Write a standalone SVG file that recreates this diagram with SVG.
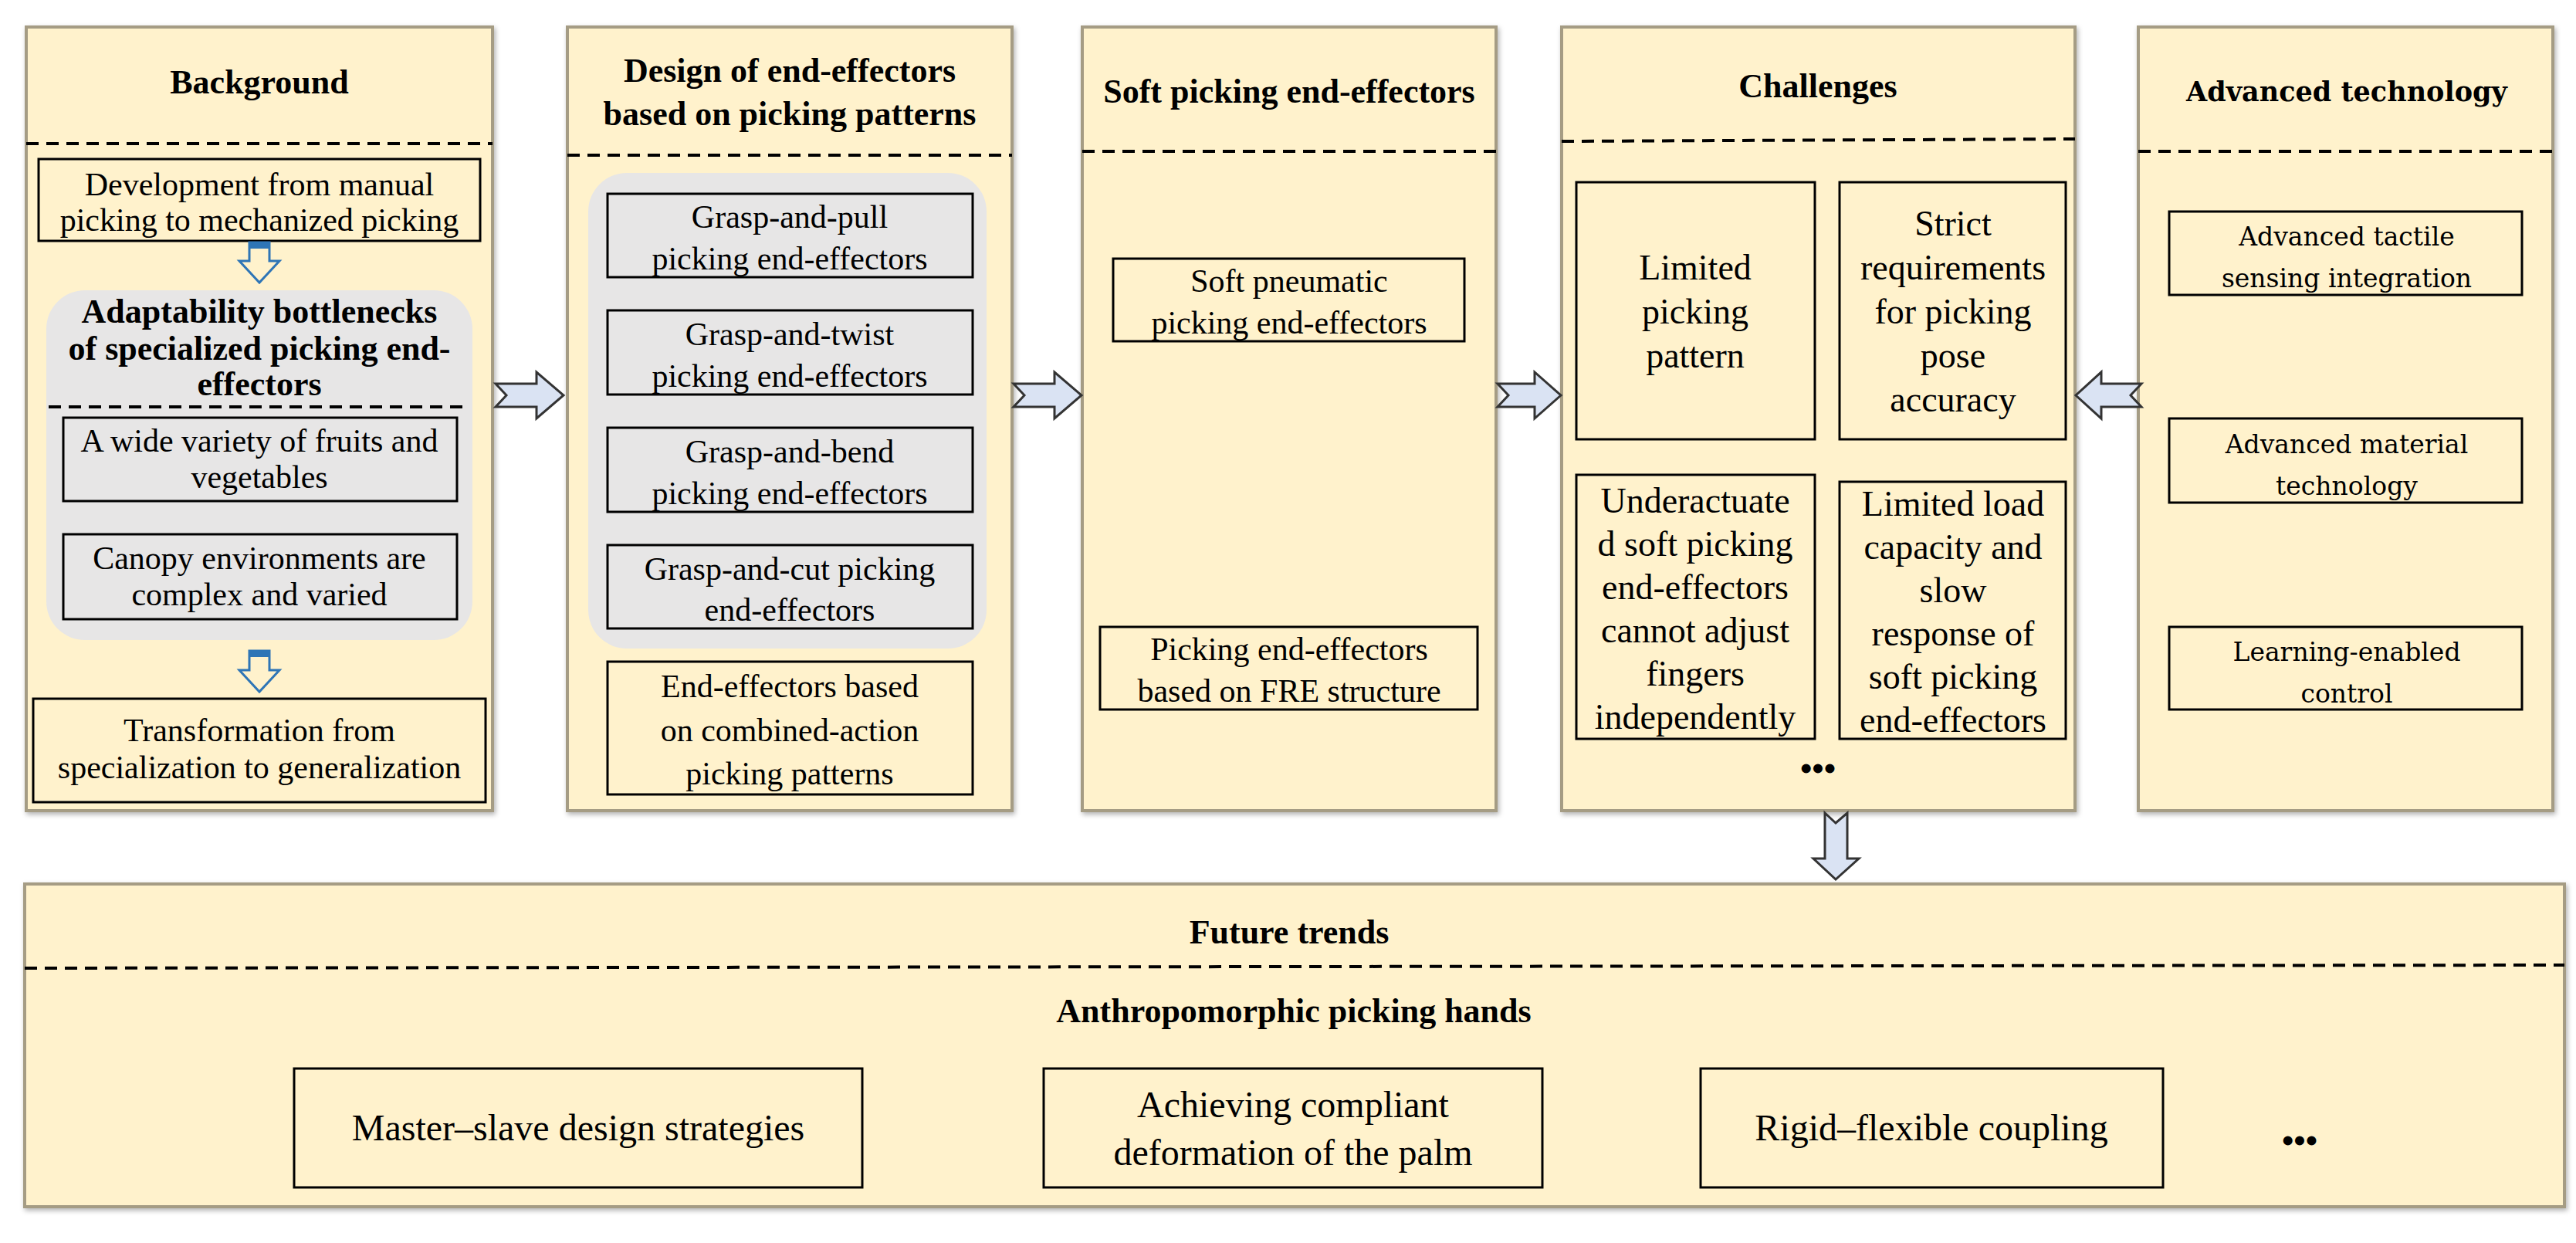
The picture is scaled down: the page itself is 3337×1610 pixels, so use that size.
<svg xmlns="http://www.w3.org/2000/svg" width="3337" height="1610" viewBox="0 0 3337 1610">
<style>
.panel{fill:#FFF2CC;stroke:#A59C84;stroke-width:4}
.dash{stroke:#000;stroke-width:4;stroke-dasharray:16 10;fill:none}
.box{fill:#FFF2CC;stroke:#000;stroke-width:3}
.gbox{fill:#E7E6E6;stroke:#000;stroke-width:3}
.gray{fill:#E7E6E6}
.t{font-family:"Liberation Serif",serif;font-size:42px;fill:#000;text-anchor:middle}
.tc{font-family:"Liberation Serif",serif;font-size:46px;fill:#000;text-anchor:middle}
.h{font-family:"Liberation Serif",serif;font-size:44px;font-weight:bold;fill:#000;text-anchor:middle}
.d{font-family:"DejaVu Serif",serif;font-size:33px;fill:#000;text-anchor:middle}
.dh{font-family:"DejaVu Serif",serif;font-size:35px;font-weight:bold;fill:#000;text-anchor:middle}
.bt{font-family:"Liberation Serif",serif;font-size:48px;fill:#000;text-anchor:middle}
.arr{fill:#DAE3F3;stroke:#333;stroke-width:3}
.hol{fill:#FFF2CC;stroke:#2E75B6;stroke-width:3}
</style>
<defs>
<filter id="sh" x="-5%" y="-5%" width="110%" height="110%"><feDropShadow dx="2" dy="3" stdDeviation="3" flood-color="#000" flood-opacity="0.3"/></filter>
</defs>

<g id="background">
<rect class="panel" x="34" y="35" width="604" height="1015" filter="url(#sh)"/>
<text class="h" x="336" y="121">Background</text>
<line class="dash" x1="34" y1="186" x2="638" y2="186"/>
<rect class="box" x="50" y="206" width="572" height="106"/>
<text class="t" x="336" y="253">Development from manual</text>
<text class="t" x="336" y="299">picking to mechanized picking</text>
<path class="hol" d="M323 314 H349 V338 H362 L336 366 L310 338 H323 Z"/>
<rect x="323" y="314" width="26" height="8" fill="#2E75B6"/>
<rect class="gray" x="60" y="376" width="552" height="453" rx="50"/>
<text class="h" x="336" y="418" font-size="42">Adaptability bottlenecks</text>
<text class="h" x="336" y="466" font-size="42">of specialized picking end-</text>
<text class="h" x="336" y="512" font-size="42">effectors</text>
<line class="dash" x1="63" y1="527" x2="603" y2="527"/>
<rect class="gbox" x="82" y="541" width="510" height="108"/>
<text class="t" x="336" y="585">A wide variety of fruits and</text>
<text class="t" x="336" y="632">vegetables</text>
<rect class="gbox" x="82" y="692" width="510" height="110"/>
<text class="t" x="336" y="737">Canopy environments are</text>
<text class="t" x="336" y="784">complex and varied</text>
<path class="hol" d="M323 843 H349 V868 H362 L336 896 L310 868 H323 Z"/>
<rect x="323" y="843" width="26" height="8" fill="#2E75B6"/>
<rect class="box" x="43" y="905" width="586" height="134"/>
<text class="t" x="336" y="960">Transformation  from</text>
<text class="t" x="336" y="1008">specialization to generalization</text>
</g>

<g id="design">
<rect class="panel" x="735" y="35" width="576" height="1015" filter="url(#sh)"/>
<text class="h" x="1023" y="106">Design of end-effectors</text>
<text class="h" x="1023" y="162">based on picking patterns</text>
<line class="dash" x1="735" y1="201" x2="1311" y2="201"/>
<rect class="gray" x="762" y="224" width="516" height="616" rx="50"/>
<rect class="gbox" x="787" y="251" width="473" height="108"/>
<text class="t" x="1023" y="295">Grasp-and-pull</text>
<text class="t" x="1023" y="349">picking end-effectors</text>
<rect class="gbox" x="787" y="402" width="473" height="109"/>
<text class="t" x="1023" y="447">Grasp-and-twist</text>
<text class="t" x="1023" y="501">picking end-effectors</text>
<rect class="gbox" x="787" y="554" width="473" height="109"/>
<text class="t" x="1023" y="599">Grasp-and-bend</text>
<text class="t" x="1023" y="653">picking end-effectors</text>
<rect class="gbox" x="787" y="706" width="473" height="108"/>
<text class="t" x="1023" y="751">Grasp-and-cut picking</text>
<text class="t" x="1023" y="804">end-effectors</text>
<rect class="box" x="787" y="857" width="473" height="172"/>
<text class="t" x="1023" y="903">End-effectors based</text>
<text class="t" x="1023" y="960">on combined-action</text>
<text class="t" x="1023" y="1016">picking patterns</text>
</g>

<g id="soft">
<rect class="panel" x="1402" y="35" width="536" height="1015" filter="url(#sh)"/>
<text class="h" x="1670" y="133">Soft picking end-effectors</text>
<line class="dash" x1="1402" y1="196" x2="1938" y2="196"/>
<rect class="box" x="1442" y="335" width="455" height="107"/>
<text class="t" x="1670" y="378">Soft pneumatic</text>
<text class="t" x="1670" y="432">picking end-effectors</text>
<rect class="box" x="1425" y="812" width="489" height="107"/>
<text class="t" x="1670" y="855">Picking end-effectors</text>
<text class="t" x="1670" y="909">based on FRE structure</text>
</g>

<g id="challenges">
<rect class="panel" x="2023" y="35" width="665" height="1015" filter="url(#sh)"/>
<text class="h" x="2355" y="126" font-size="46">Challenges</text>
<line class="dash" x1="2023" y1="183" x2="2688" y2="180"/>
<rect class="box" x="2042" y="236" width="309" height="333"/>
<text class="tc" x="2196" y="362">Limited</text>
<text class="tc" x="2196" y="419">picking</text>
<text class="tc" x="2196" y="476">pattern</text>
<rect class="box" x="2383" y="236" width="293" height="333"/>
<text class="tc" x="2530" y="305">Strict</text>
<text class="tc" x="2530" y="362">requirements</text>
<text class="tc" x="2530" y="419">for picking</text>
<text class="tc" x="2530" y="476">pose</text>
<text class="tc" x="2530" y="533">accuracy</text>
<rect class="box" x="2042" y="615" width="309" height="342"/>
<text class="tc" x="2196" y="664">Underactuate</text>
<text class="tc" x="2196" y="720">d soft picking</text>
<text class="tc" x="2196" y="776">end-effectors</text>
<text class="tc" x="2196" y="832">cannot adjust</text>
<text class="tc" x="2196" y="888">fingers</text>
<text class="tc" x="2196" y="944">independently</text>
<rect class="box" x="2383" y="624" width="293" height="333"/>
<text class="tc" x="2530" y="668">Limited load</text>
<text class="tc" x="2530" y="724">capacity and</text>
<text class="tc" x="2530" y="780">slow</text>
<text class="tc" x="2530" y="836">response of</text>
<text class="tc" x="2530" y="892">soft picking</text>
<text class="tc" x="2530" y="948">end-effectors</text>
<text class="h" x="2355" y="1010">•••</text>
</g>

<g id="advanced">
<rect class="panel" x="2770" y="35" width="537" height="1015" filter="url(#sh)"/>
<text class="dh" x="3040" y="131">Advanced technology</text>
<line class="dash" x1="2770" y1="196" x2="3307" y2="196"/>
<rect class="box" x="2810" y="274" width="457" height="108"/>
<text class="d" x="3040" y="318">Advanced tactile</text>
<text class="d" x="3040" y="372">sensing integration</text>
<rect class="box" x="2810" y="542" width="457" height="109"/>
<text class="d" x="3040" y="587">Advanced material</text>
<text class="d" x="3040" y="641">technology</text>
<rect class="box" x="2810" y="812" width="457" height="107"/>
<text class="d" x="3040" y="856">Learning-enabled</text>
<text class="d" x="3040" y="910">control</text>
</g>

<g id="future">
<rect class="panel" x="32" y="1145" width="3290" height="418" filter="url(#sh)"/>
<text class="h" x="1670" y="1222" font-size="56">Future trends</text>
<line class="dash" x1="32" y1="1254" x2="3322" y2="1250"/>
<text class="h" x="1676" y="1324" font-size="46">Anthropomorphic picking hands</text>
<rect class="box" x="381" y="1384" width="736" height="154"/>
<text class="bt" x="749" y="1477">Master–slave design strategies</text>
<rect class="box" x="1352" y="1384" width="646" height="154"/>
<text class="bt" x="1675" y="1447">Achieving compliant</text>
<text class="bt" x="1675" y="1509">deformation of the palm</text>
<rect class="box" x="2203" y="1384" width="599" height="154"/>
<text class="bt" x="2502" y="1477">Rigid–flexible coupling</text>
<text class="h" x="2979" y="1492">•••</text>
</g>

<g id="connectors">
<path class="arr" d="M642 497 H695 V482 L730 512 L695 542 V527 H642 L656 512 Z"/>
<path class="arr" d="M1313 497 H1366 V482 L1401 512 L1366 542 V527 H1313 L1327 512 Z"/>
<path class="arr" d="M1940 497 H1988 V482 L2022 512 L1988 542 V527 H1940 L1954 512 Z"/>
<path class="arr" d="M2774 497 H2722 V482 L2689 512 L2722 542 V527 H2774 L2760 512 Z"/>
<path class="arr" d="M2364 1053 L2378 1066 L2393 1053 V1112 H2408 L2378 1139 L2349 1112 H2364 Z"/>
</g>
</svg>
